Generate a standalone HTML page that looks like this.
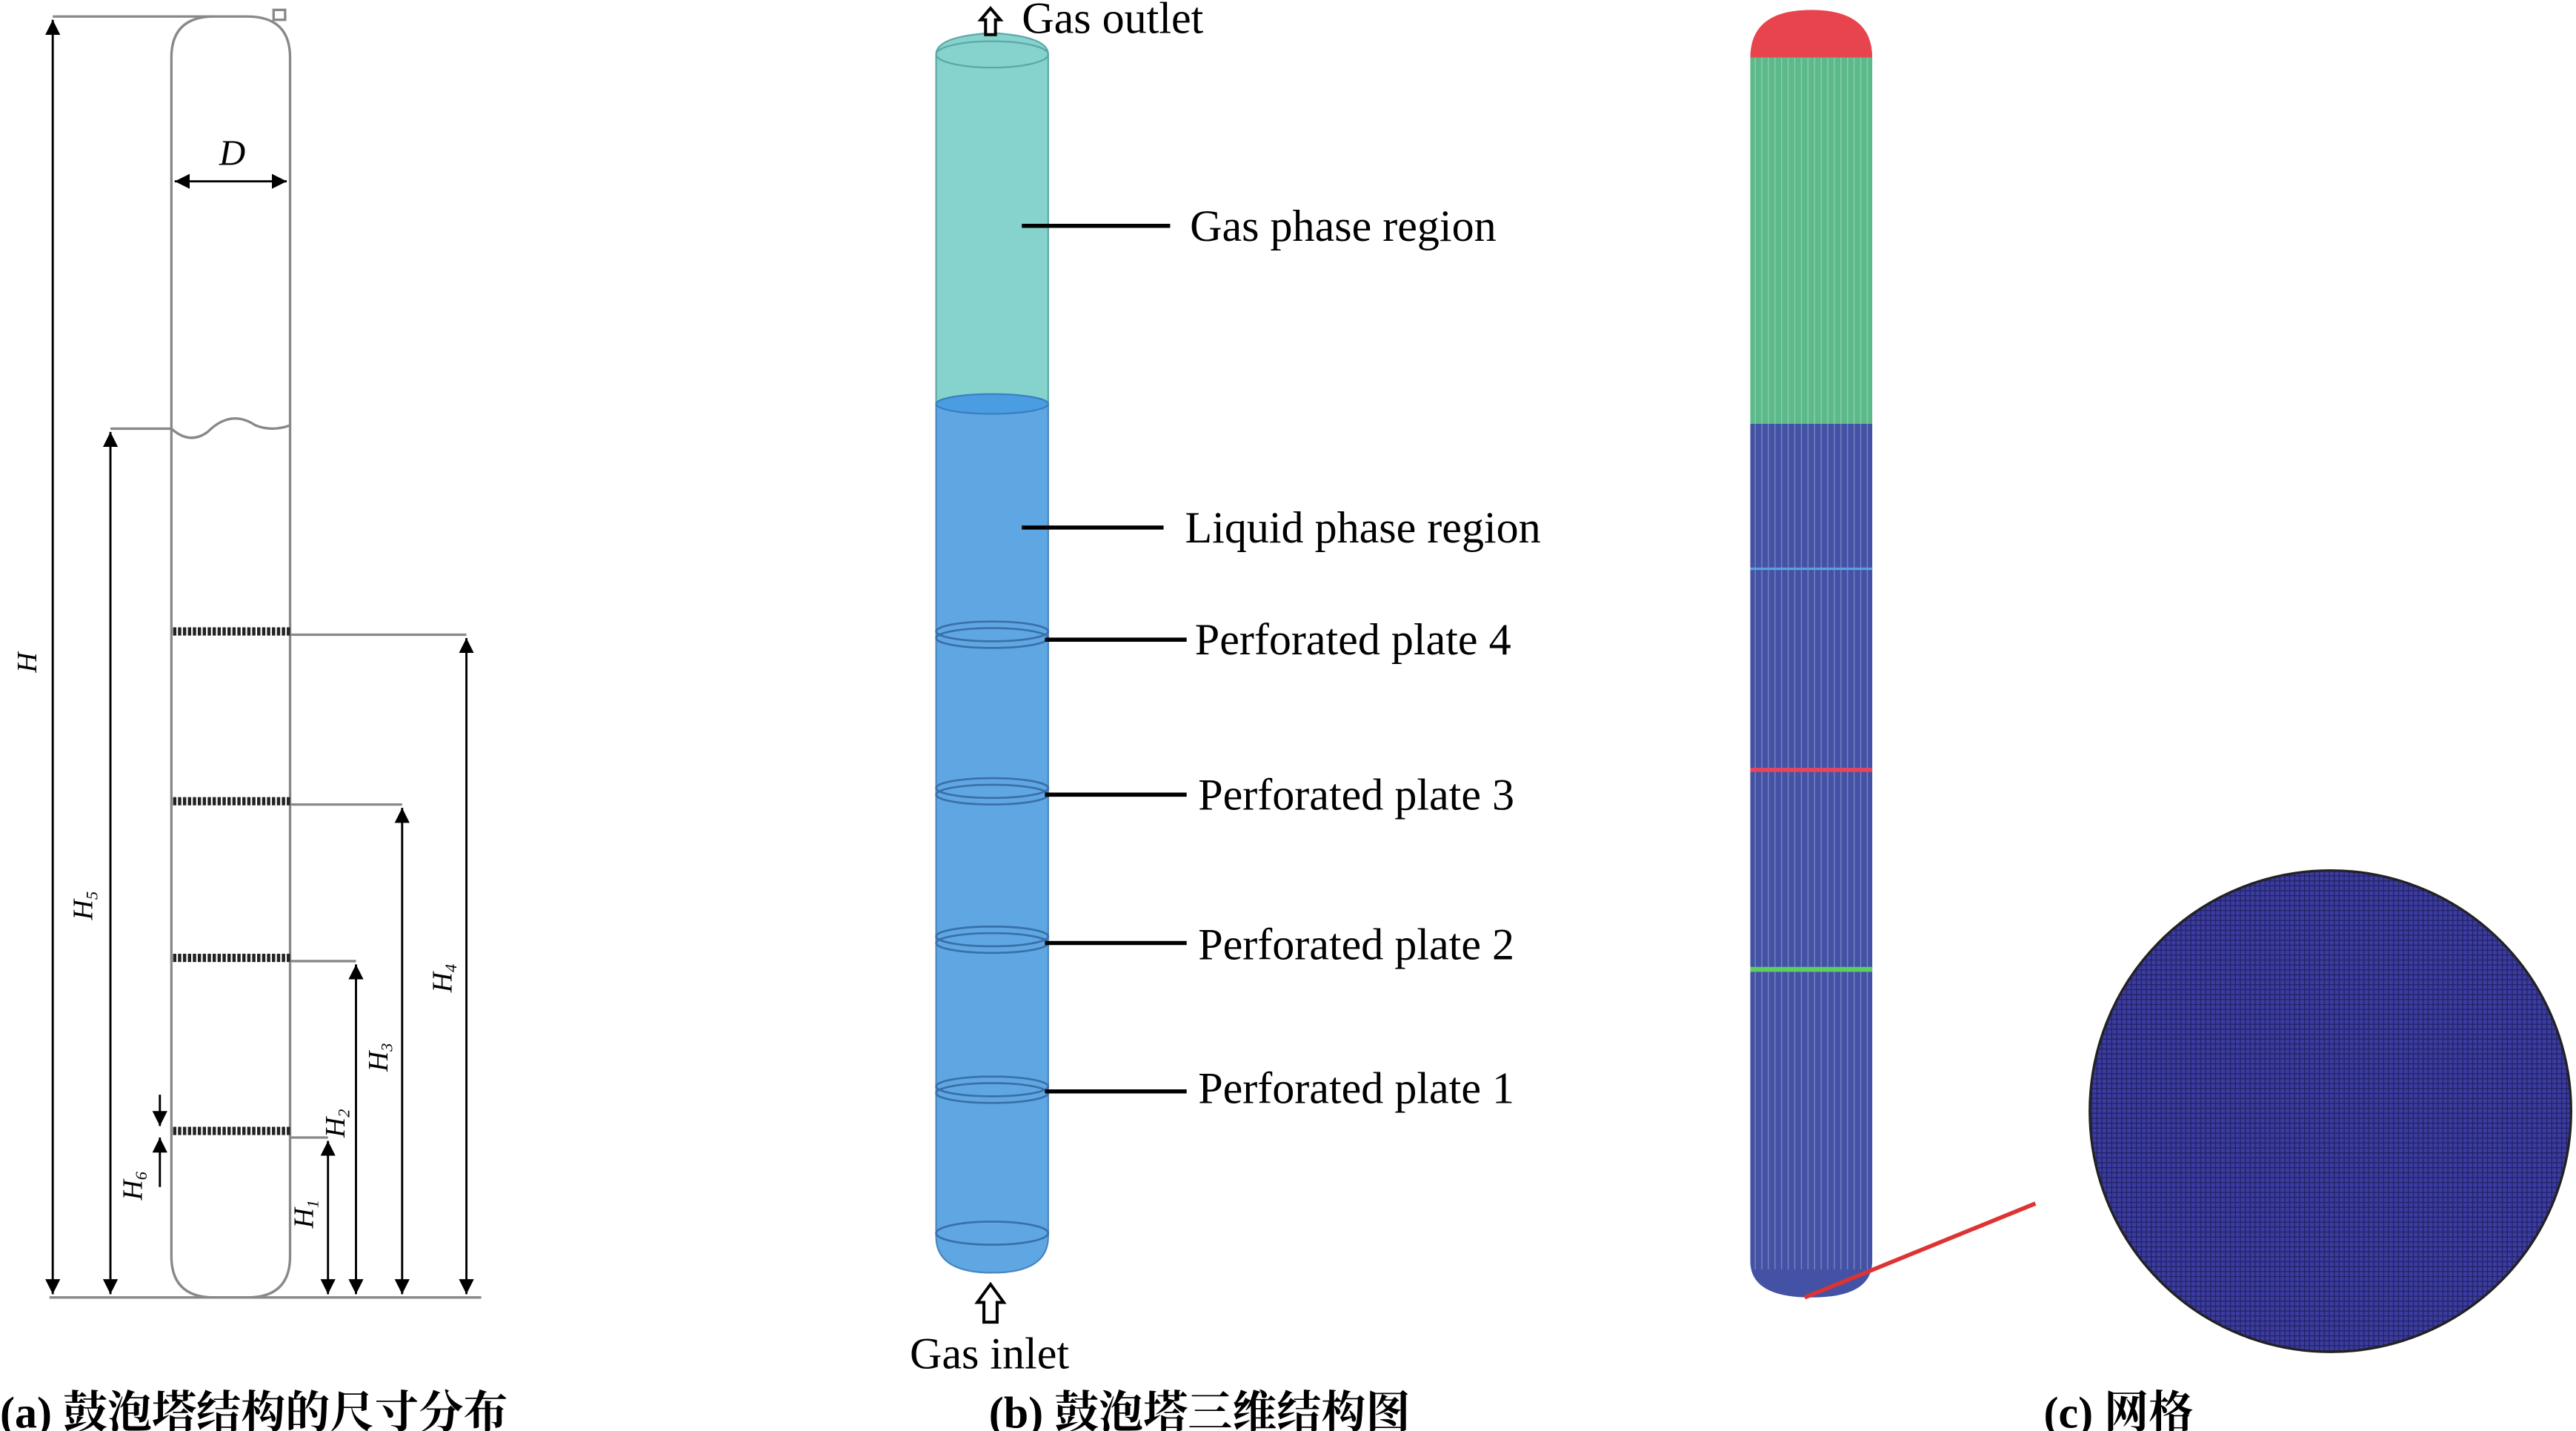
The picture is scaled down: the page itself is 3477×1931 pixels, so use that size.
<!DOCTYPE html>
<html><head><meta charset="utf-8"><style>
html,body{margin:0;padding:0;background:#fff;}
svg{display:block;}
</style></head><body>
<svg width="3477" height="1931" viewBox="0 0 1563 868" preserveAspectRatio="none" xmlns="http://www.w3.org/2000/svg" font-family="Liberation Serif, Noto Serif CJK SC, serif">
<defs>
<marker id="ar" viewBox="0 0 10 10" refX="10" refY="5" markerWidth="7" markerHeight="7" orient="auto-start-reverse"><path d="M0,0 L10,5 L0,10 z" fill="#000"/></marker>
<pattern id="mesh" width="3" height="3" patternUnits="userSpaceOnUse"><rect width="3" height="3" fill="#3c3ca0"/><path d="M0,0.3H3M0.3,0V3" stroke="#222266" stroke-width="0.6"/></pattern>
<pattern id="vl" width="4" height="6" patternUnits="userSpaceOnUse"><path d="M1,0V6" stroke="#ffffff" stroke-opacity="0.35" stroke-width="0.5"/></pattern>
</defs>
<!-- Panel a -->
<g fill="none" stroke="#888" stroke-width="1.5">
<path d="M104,35 Q104,10 130,10 L150,10 Q176,10 176,35 L176,762 Q176,787 150,787 L130,787 Q104,787 104,762 Z"/>
<rect x="166" y="6" width="7" height="6"/>
<path d="M32,10H130 M30,787H292 M67,260H104 M176,385H283 M176,488H244 M176,583H216 M176,690H199"/>
<path d="M104,260 Q115,270 126,262 Q140,248 155,258 Q165,262 176,258"/>
</g>
<g stroke="#000" stroke-width="1.3" fill="none">
<line x1="32" y1="12" x2="32" y2="785" marker-start="url(#ar)" marker-end="url(#ar)"/>
<line x1="67" y1="262" x2="67" y2="785" marker-start="url(#ar)" marker-end="url(#ar)"/>
<line x1="283" y1="387" x2="283" y2="785" marker-start="url(#ar)" marker-end="url(#ar)"/>
<line x1="244" y1="490" x2="244" y2="785" marker-start="url(#ar)" marker-end="url(#ar)"/>
<line x1="216" y1="585" x2="216" y2="785" marker-start="url(#ar)" marker-end="url(#ar)"/>
<line x1="199" y1="692" x2="199" y2="785" marker-start="url(#ar)" marker-end="url(#ar)"/>
<line x1="106" y1="110" x2="174" y2="110" marker-start="url(#ar)" marker-end="url(#ar)"/>
<line x1="97" y1="664" x2="97" y2="683" marker-end="url(#ar)"/>
<line x1="97" y1="720" x2="97" y2="690" marker-end="url(#ar)"/>
</g>
<g stroke="#222" stroke-width="5" stroke-dasharray="2 1">
<path d="M105,383H176 M105,486H176 M105,581H176 M105,686H176"/>
</g>
<g font-style="italic" font-size="22" fill="#000">
<text x="133" y="100">D</text>
<text transform="translate(22,408) rotate(-90)" font-size="17">H</text>
<text transform="translate(56,558) rotate(-90)" font-size="17">H<tspan font-size="10" dy="3">5</tspan></text>
<text transform="translate(274,602) rotate(-90)" font-size="17">H<tspan font-size="10" dy="3">4</tspan></text>
<text transform="translate(235,650) rotate(-90)" font-size="17">H<tspan font-size="10" dy="3">3</tspan></text>
<text transform="translate(209,690) rotate(-90)" font-size="17">H<tspan font-size="10" dy="3">2</tspan></text>
<text transform="translate(190,745) rotate(-90)" font-size="17">H<tspan font-size="10" dy="3">1</tspan></text>
<text transform="translate(86,728) rotate(-90)" font-size="17">H<tspan font-size="10" dy="3">6</tspan></text>
</g>
<!-- Panel b -->
<path d="M568,33 Q568,22 602,20 Q636,22 636,33 L636,245 L568,245 Z" fill="#86d2cc" stroke="#5aa9a8"/>
<path d="M568,245 L636,245 L636,750 Q636,772 602,772 Q568,772 568,750 Z" fill="#5ea7e2" stroke="#4a86c0"/>
<ellipse cx="602" cy="245" rx="34" ry="6" fill="#4a9de0" stroke="#3a7fc0"/>
<ellipse cx="602" cy="33" rx="34" ry="8" fill="none" stroke="#5aa9a8"/>
<g fill="none" stroke="#3a6fa8" stroke-width="1.2">
<ellipse cx="602" cy="383" rx="34" ry="6"/><ellipse cx="602" cy="387" rx="34" ry="6"/>
<ellipse cx="602" cy="478" rx="34" ry="6"/><ellipse cx="602" cy="482" rx="34" ry="6"/>
<ellipse cx="602" cy="568" rx="34" ry="6"/><ellipse cx="602" cy="572" rx="34" ry="6"/>
<ellipse cx="602" cy="659" rx="34" ry="6"/><ellipse cx="602" cy="663" rx="34" ry="6"/>
<ellipse cx="602" cy="748" rx="34" ry="7"/>
</g>
<g stroke="#000" stroke-width="2.5">
<path d="M620,137H710 M620,320H706 M634,388H720 M634,482H720 M634,572H720 M634,662H720"/>
</g>
<g fill="#fff" stroke="#000" stroke-width="1.8">
<path d="M601,5 L607,12 L604,12 L604,21 L598,21 L598,12 L595,12 Z"/>
<path d="M601,779 L609,790 L605,790 L605,802 L597,802 L597,790 L593,790 Z"/>
</g>
<g font-size="27" fill="#000">
<text x="620" y="20">Gas outlet</text>
<text x="722" y="146">Gas phase region</text>
<text x="719" y="329">Liquid phase region</text>
<text x="725" y="397">Perforated plate 4</text>
<text x="727" y="491">Perforated plate 3</text>
<text x="727" y="582">Perforated plate 2</text>
<text x="727" y="669">Perforated plate 1</text>
<text x="552" y="830">Gas inlet</text>
</g>
<!-- Panel c -->
<path d="M1062,35 Q1062,6 1099,6 Q1136,6 1136,35 Z" fill="#e8444e"/>
<rect x="1062" y="35" width="74" height="222" fill="#5cba8a"/>
<path d="M1062,257 H1136 V765 Q1136,787 1099,787 Q1062,787 1062,765 Z" fill="#4452a6"/>
<rect x="1062" y="35" width="74" height="735" fill="url(#vl)"/>
<path d="M1062,345H1136" stroke="#5aa0e0" stroke-width="1.5"/>
<path d="M1062,467H1136" stroke="#e8445a" stroke-width="2.5"/>
<path d="M1062,588H1136" stroke="#5ecf5e" stroke-width="3"/>
<path d="M1095,787 L1235,730" stroke="#dd3333" stroke-width="2.5"/>
<circle cx="1414" cy="674" r="146" fill="url(#mesh)" stroke="#222" stroke-width="1.5"/>
<g font-size="27" fill="#000" font-weight="bold">
<text x="0" y="866">(a) 鼓泡塔结构的尺寸分布</text>
<text x="600" y="866">(b) 鼓泡塔三维结构图</text>
<text x="1240" y="866">(c) 网格</text>
</g>
</svg>
</body></html>
